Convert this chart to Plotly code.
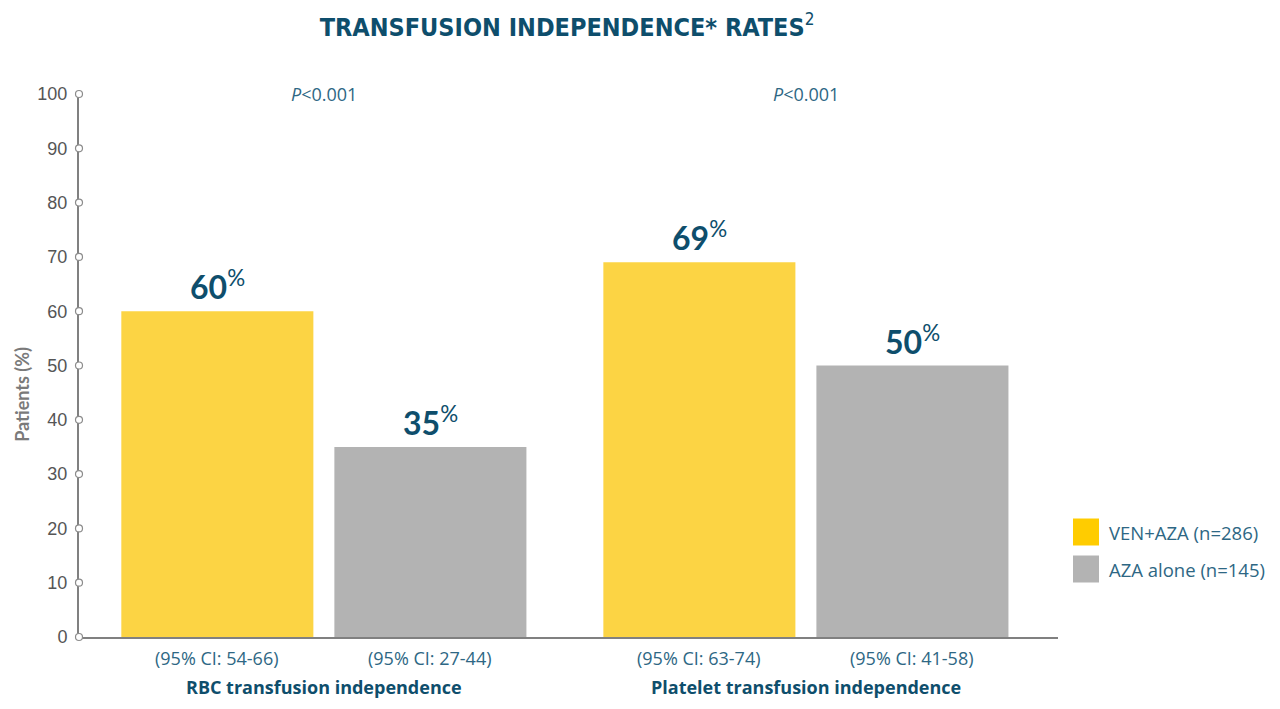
import plotly.graph_objects as go

groups = ["RBC transfusion independence", "Platelet transfusion independence"]
series_names = ["VEN+AZA (n=286)", "AZA alone (n=145)"]
ven_aza = [60, 69]
aza_alone = [35, 50]
ci_ven_aza = ["(95% CI: 54-66)", "(95% CI: 63-74)"]
ci_aza_alone = ["(95% CI: 27-44)", "(95% CI: 41-58)"]
p_values = ["<i>P</i><0.001", "<i>P</i><0.001"]
y_ticks = [0, 10, 20, 30, 40, 50, 60, 70, 80, 90, 100]
y_title = "Patients (%)"

colors = ["#FCD444", "#B3B3B3"]
legend_colors = ["#FFCC00", "#B3B3B3"]
dark = "#0E4E6C"
mid = "#2E6784"
grey_axis = "#808080"

x_idx = list(range(len(groups)))
x_min, x_max = -0.508, 1.523
offset = 0.221

fig = go.Figure()
for vals, name, col in [(ven_aza, series_names[0], colors[0]),
                        (aza_alone, series_names[1], colors[1])]:
    fig.add_trace(go.Bar(x=x_idx, y=vals, name=name, marker=dict(color=col, line=dict(width=0)),
                         showlegend=False))

# tick markers on y axis
fig.add_trace(go.Scatter(x=[x_min] * len(y_ticks), y=y_ticks, mode="markers",
                         marker=dict(symbol="circle", size=7, color="white",
                                     line=dict(color="#8C8C8C", width=1.2)),
                         cliponaxis=False, showlegend=False, hoverinfo="skip"))

annotations = []
for i in x_idx:
    for vals, ci, sgn in [(ven_aza, ci_ven_aza, -1), (aza_alone, ci_aza_alone, 1)]:
        xp = i + sgn * offset
        annotations.append(dict(x=xp, y=vals[i], xref="x", yref="y", yanchor="bottom",
                                yshift=3, showarrow=False,
                                text=f"<b>{vals[i]}</b><sup>%</sup>",
                                font=dict(family="Lato", size=32, color=dark)))
        annotations.append(dict(x=xp, y=0, xref="x", yref="y", yanchor="top",
                                yshift=-7, showarrow=False, text=ci[i],
                                font=dict(family="Open Sans", size=18, color=mid)))
    annotations.append(dict(x=i, y=0, xref="x", yref="y", yanchor="top", yshift=-36,
                            showarrow=False, text=f"<b>{groups[i]}</b>",
                            font=dict(family="Open Sans", size=18, color=dark)))
    annotations.append(dict(x=i, y=100, xref="x", yref="y", yanchor="middle",
                            showarrow=False, text=p_values[i],
                            font=dict(family="Open Sans", size=18, color=mid)))

# y-axis title as rotated annotation
annotations.append(dict(x=(22 - 79) / 979, y=0.446, xref="paper", yref="paper",
                        xanchor="center", yanchor="middle", textangle=-90, showarrow=False,
                        text=f"<b>{y_title}</b>",
                        font=dict(family="Lato", size=18, color="#7A7A7A")))

# custom legend
shapes = []
leg_y = [532, 569]
for k, (name, col) in enumerate(zip(series_names, legend_colors)):
    yc = 1 - (leg_y[k] - 94) / 543
    h = 27 / 543
    shapes.append(dict(type="rect", xref="paper", yref="paper",
                       x0=(1073 - 79) / 979, x1=(1099 - 79) / 979,
                       y0=yc - h / 2, y1=yc + h / 2,
                       fillcolor=col, line=dict(width=0)))
    annotations.append(dict(x=(1107 - 79) / 979, y=yc, xref="paper", yref="paper",
                            xanchor="left", yanchor="middle", showarrow=False, text=name,
                            font=dict(family="Open Sans", size=18.5, color=mid)))

fig.update_layout(
    width=1280, height=709,
    margin=dict(l=79, r=222, t=94, b=72),
    paper_bgcolor="white", plot_bgcolor="white",
    barmode="group", bargap=0.116, bargroupgap=0.0986,
    title=dict(text="<b>TRANSFUSION INDEPENDENCE* RATES</b><sup><span style='font-size:17px'>2</span></sup>",
               x=567 / 1280, xanchor="center", y=1 - 27 / 709, yanchor="middle",
               font=dict(family="DejaVu Sans Condensed", size=25, color=dark)),
    xaxis=dict(range=[x_min, x_max], showticklabels=False, ticks="", showgrid=False,
               zeroline=False, showline=True, linecolor=grey_axis, linewidth=2,
               automargin=False, layer="below traces"),
    yaxis=dict(range=[0, 100], tickvals=y_ticks, showgrid=False, zeroline=False,
               showline=True, linecolor=grey_axis, linewidth=2, ticks="",
               ticklabelstandoff=6, automargin=False, layer="below traces",
               tickfont=dict(family="Liberation Sans", size=18, color="#555555")),
    annotations=annotations, shapes=shapes,
)

fig.write_html("out.html", config={"displayModeBar": False},
               post_script="document.body.style.margin='0';")
